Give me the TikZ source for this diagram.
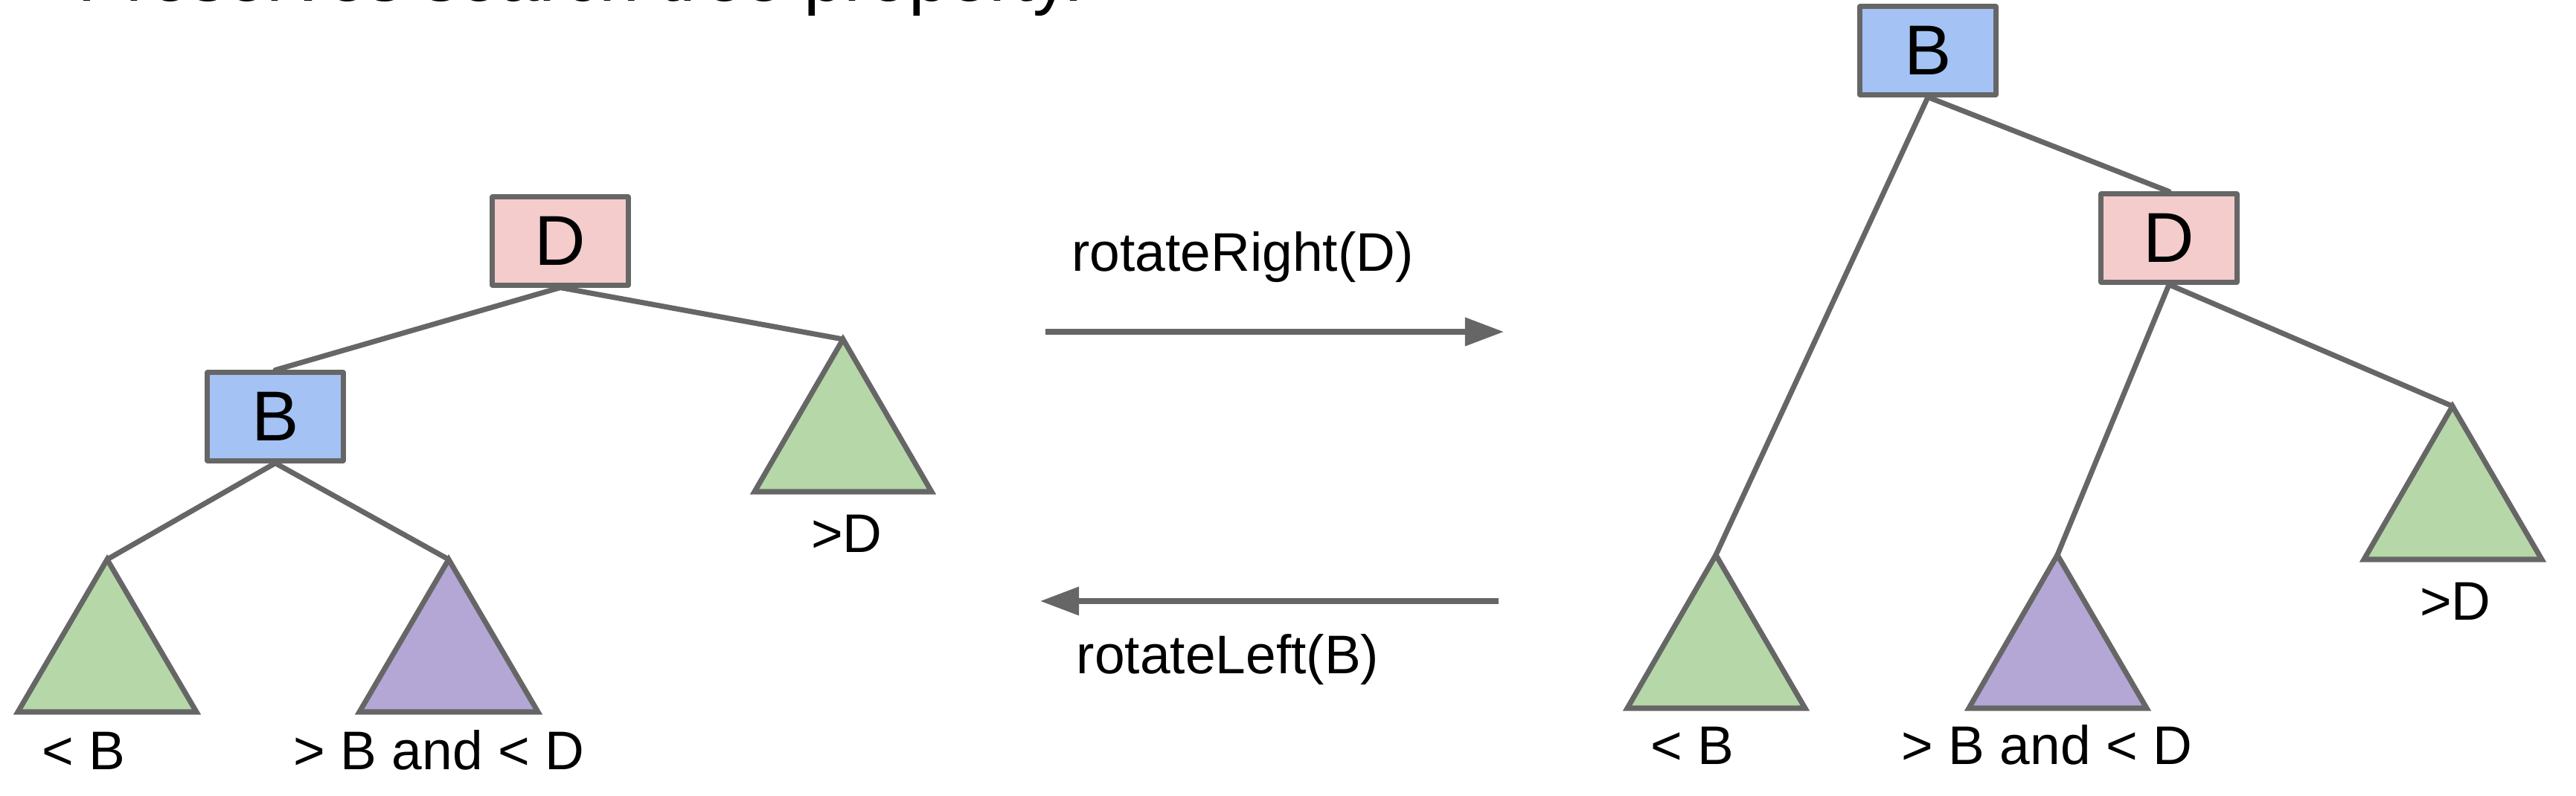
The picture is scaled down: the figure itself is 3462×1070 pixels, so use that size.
\documentclass[tikz,border=0pt]{standalone}
\usepackage{fontspec}
\setmainfont{Liberation Sans}
\usetikzlibrary{arrows.meta}
\definecolor{edgegray}{HTML}{666666}
\definecolor{pinkfill}{HTML}{F4CCCC}
\definecolor{bluefill}{HTML}{A4C2F4}
\definecolor{greenfill}{HTML}{B6D7A8}
\definecolor{purplefill}{HTML}{B4A7D6}
\begin{document}
\begin{tikzpicture}[x=0.01cm,y=-0.01cm,
  keybox/.style={draw=edgegray, line width=2pt, minimum width=1.82cm, minimum height=1.18cm,
    inner sep=0pt, font=\fontsize{27pt}{30pt}\selectfont, line join=round},
  edge/.style={draw=edgegray, line width=2pt, line cap=round},
  subtree/.style={draw=edgegray, line width=2pt, line join=miter},
  lbl/.style={anchor=base, inner sep=0pt, font=\fontsize{20.8pt}{24pt}\selectfont},
  rot/.style={draw=edgegray, line width=2pt, -{Triangle[length=0.52cm,width=0.37cm]}}
]
\useasboundingbox (0,0) rectangle (3462,1070);

% cut-off caption at the top
\node[anchor=base west, inner sep=0pt, font=\fontsize{27.6pt}{30pt}\selectfont] (caption) at (104,2) {Preserves search tree property.};

% ---------- left tree ----------
\node[keybox, fill=pinkfill] (LD) at (753,324) {D};
\node[keybox, fill=bluefill] (LB) at (370,560) {B};
\coordinate (LT1) at (144,752);
\coordinate (LT2) at (603,752);
\coordinate (LT3) at (1133,456);
\filldraw[subtree, fill=greenfill] (LT1) -- ++(-120,205) -- ++(240,0) -- cycle;
\filldraw[subtree, fill=purplefill] (LT2) -- ++(-120,205) -- ++(240,0) -- cycle;
\filldraw[subtree, fill=greenfill] (LT3) -- ++(-119,205) -- ++(238,0) -- cycle;
\draw[edge] (LD.south) -- (LB.north);
\draw[edge] (LD.south) -- (LT3);
\draw[edge] (LB.south) -- (LT1);
\draw[edge] (LB.south) -- (LT2);
\node[lbl] (L1) at (112,1034) {< B};
\node[lbl] (L2) at (590,1034) {> B and < D};
\node[lbl] (L3) at (1138,742) {>D};

% ---------- arrows ----------
\coordinate (A1s) at (1405,446);
\coordinate (A1e) at (2021,446);
\coordinate (A2s) at (2014,808);
\coordinate (A2e) at (1398,808);
\draw[rot] (A1s) -- (A1e);
\draw[rot] (A2s) -- (A2e);
\node[lbl] (R1) at (1670,364) {rotateRight(D)};
\node[lbl] (R2) at (1650,905) {rotateLeft(B)};

% ---------- right tree ----------
\node[keybox, fill=bluefill] (RB) at (2591,68) {B};
\node[keybox, fill=pinkfill] (RD) at (2915,320) {D};
\coordinate (RT1) at (2306,746);
\coordinate (RT2) at (2765,746);
\coordinate (RT3) at (3296,546);
\filldraw[subtree, fill=greenfill] (RT1) -- ++(-119,206) -- ++(239,0) -- cycle;
\filldraw[subtree, fill=purplefill] (RT2) -- ++(-119,206) -- ++(239,0) -- cycle;
\filldraw[subtree, fill=greenfill] (RT3) -- ++(-119,206) -- ++(239,0) -- cycle;
\draw[edge] (RB.south) -- (RD.north);
\draw[edge] (RB.south) -- (RT1);
\draw[edge] (RD.south) -- (RT2);
\draw[edge] (RD.south) -- (RT3);
\node[lbl] (M1) at (2274,1027) {< B};
\node[lbl] (M2) at (2751,1027) {> B and < D};
\node[lbl] (M3) at (3300,833) {>D};
\end{tikzpicture}
\end{document}
